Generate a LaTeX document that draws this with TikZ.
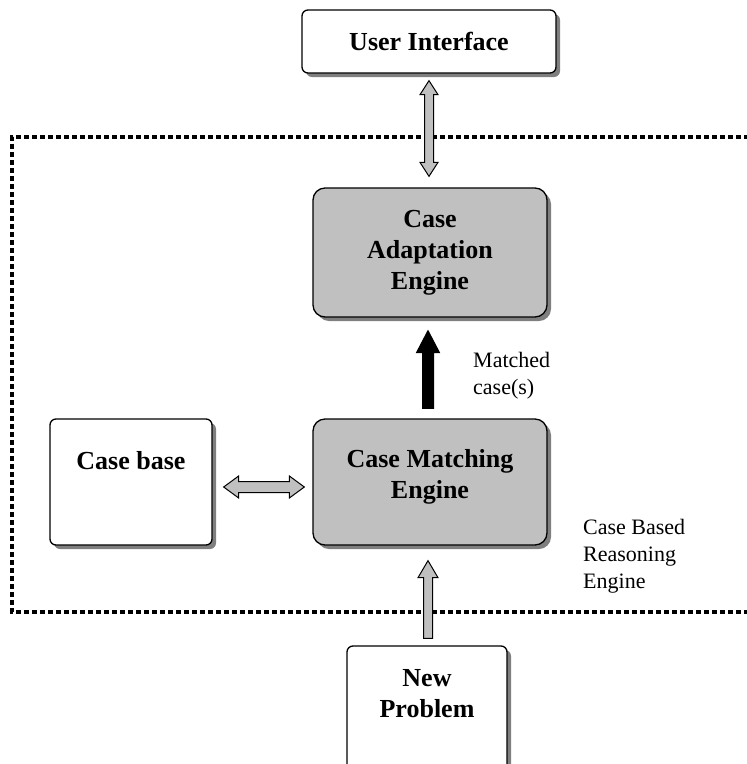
\documentclass[tikz,border=0pt]{standalone}
\usepackage{fontspec}
\setmainfont{Liberation Serif}
\usetikzlibrary{positioning,calc,shadows}

\definecolor{boxgrey}{HTML}{C0C0C0}
\definecolor{shadowgrey}{HTML}{7F7F7F}

% block arrows between two points (top, bottom) or (left, right)
\newcommand{\vdouble}[2]{%
  \path[blockarrow] let \p1=(#1), \p2=(#2) in
    (\x1,\y1) -- ++(9pt,-14pt) -- ++(-4.5pt,0pt) -- (\x1+4.5pt,\y2+14pt) -- ++(4.5pt,0pt)
    -- (\x1,\y2) -- ++(-9pt,14pt) -- ++(4.5pt,0pt) -- (\x1-4.5pt,\y1-14pt) -- ++(-4.5pt,0pt) -- cycle;}
\newcommand{\hdouble}[2]{%
  \path[blockarrow] let \p1=(#1), \p2=(#2) in
    (\x1,\y1) -- ++(15pt,11pt) -- ++(0pt,-5.5pt) -- (\x2-15pt,\y1+5.5pt) -- ++(0pt,5.5pt)
    -- (\x2,\y1) -- ++(-15pt,-11pt) -- ++(0pt,5.5pt) -- (\x1+15pt,\y1-5.5pt) -- ++(0pt,-5.5pt) -- cycle;}
\newcommand{\vsingle}[6]{%
  \path[#1] let \p1=(#2), \p2=(#3) in
    (\x1,\y1) -- (\x1+#4,\y1-#6) -- (\x1+#5,\y1-#6) -- (\x1+#5,\y2) -- (\x1-#5,\y2)
    -- (\x1-#5,\y1-#6) -- (\x1-#4,\y1-#6) -- cycle;}

\begin{document}
\begin{tikzpicture}[x=1pt, y=-1pt,
    box/.style={draw, line width=1.3pt, fill=white, rounded corners=6pt, inner sep=0pt,
      drop shadow={shadow xshift=4pt, shadow yshift=-4pt, fill=shadowgrey, opacity=1}},
    greybox/.style={box, fill=boxgrey, rounded corners=12pt},
    boldtext/.style={font=\fontsize{26}{31}\selectfont\bfseries, align=center, inner sep=0pt},
    plaintext/.style={font=\fontsize{22}{27}\selectfont, align=left, inner sep=0pt},
    blockarrow/.style={draw, line width=1pt, fill=boxgrey, line join=miter},
    solidarrow/.style={fill=black},
    dotline/.style={line width=4pt, dash pattern=on 5pt off 3pt}]

  \useasboundingbox (0,0) rectangle (747,764);
  \clip (0,0) rectangle (747,764);

  % reasoning engine frame
  \draw[dotline] (765,137) -- (12,137) -- (12,612) -- (765,612);

  \node[box, boldtext, minimum width=254pt, minimum height=63pt] (ui) at (429,41.5) {User Interface};
  \node[greybox, boldtext, minimum width=234pt, minimum height=129pt] (cae) at (430,252.5) {Case\\Adaptation\\Engine};
  \node[greybox, minimum width=234pt, minimum height=126pt] (cme) at (430,482) {};
  \node[box, minimum width=162pt, minimum height=126pt] (cb) at (131,482) {};
  \node[box, minimum width=160pt, minimum height=134pt] (np) at (427,713) {};

  \node[boldtext, below=31pt of cme.north] (cmetext) {Case Matching\\Engine};
  \node[boldtext, below=33pt of cb.north] (cbtext) {Case base};
  \node[boldtext, below=24pt of np.north] (nptext) {New\\Problem};

  \node[plaintext, anchor=north west] (matched) at (473,352) {Matched\\case(s)};
  \node[plaintext, anchor=north west] (cbr) at (583,519) {Case Based\\Reasoning\\Engine};

  \vdouble{$(ui.south)+(0,7)$}{$(cae.north)+(0,-11)$}
  \vsingle{blockarrow, solidarrow}{$(cae.south)+(-2,13)$}{$(cme.north)+(-2,-10)$}{11.5pt}{5.5pt}{22pt}
  \hdouble{$(cb.east)+(11,5)$}{$(cme.west)+(-8,5)$}
  \vsingle{blockarrow}{$(cme.south)+(-2,15)$}{$(np.north)+(0,-7)$}{10pt}{4.5pt}{17pt}

\end{tikzpicture}
\end{document}
